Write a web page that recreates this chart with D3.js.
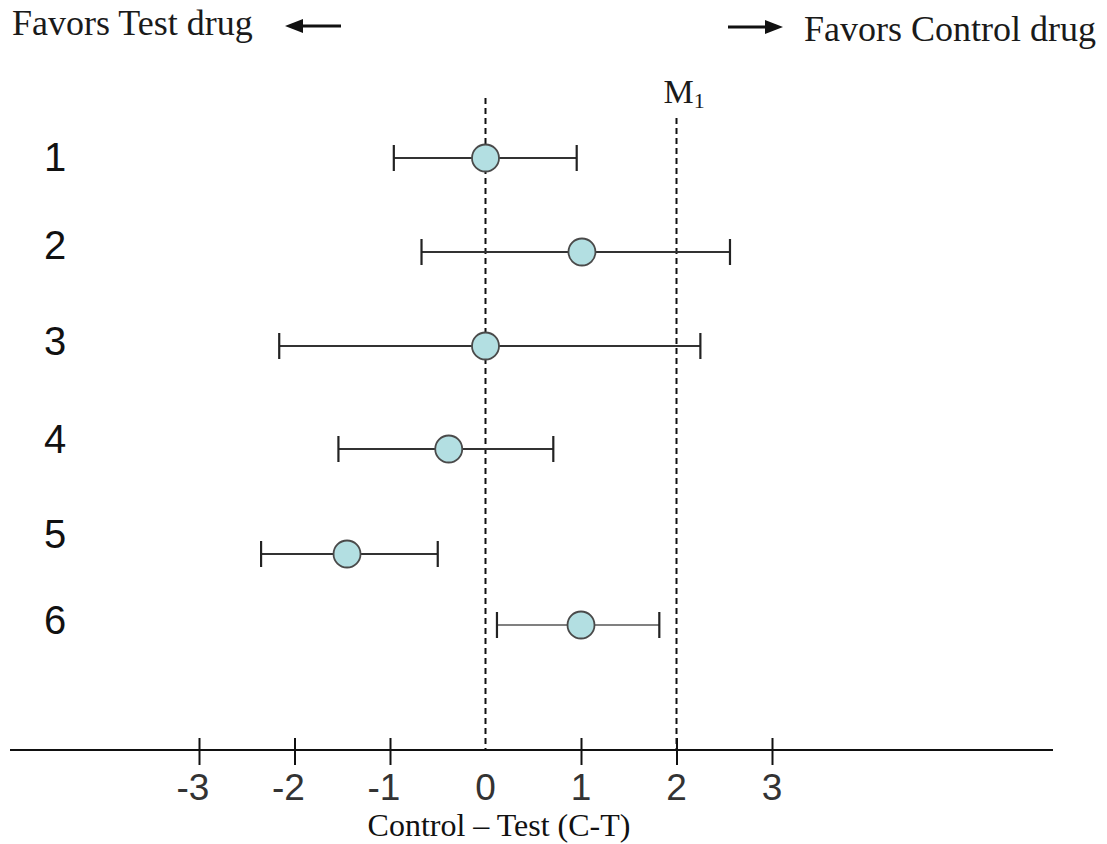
<!DOCTYPE html>
<html>
<head>
<meta charset="utf-8">
<script src="https://cdn.jsdelivr.net/npm/d3@7"></script>
<style>
  html, body { margin: 0; padding: 0; background: #fff; }
  svg { display: block; }
</style>
</head>
<body>
<svg id="chart" width="1107" height="844"></svg>
<script>
// ---- data ----
const rows = [1, 2, 3, 4, 5, 6];
const estimates = [0, 1.01, 0, -0.385, -1.45, 1.0];
const lowerCI = [-0.96, -0.67, -2.16, -1.54, -2.35, 0.12];
const upperCI = [0.955, 2.56, 2.25, 0.71, -0.50, 1.82];
const xTicks = [-3, -2, -1, 0, 1, 2, 3];
const refLines = [0, 2];
const marginLabel = "M";
const marginSub = "1";
const leftHeader = "Favors Test drug";
const rightHeader = "Favors Control drug";
const xTitle = "Control \u2013 Test (C-T)";

// ---- layout ----
const svg = d3.select("#chart");
const x = d3.scaleLinear().domain([-3, 3]).range([199, 772]);
const y = d3.scaleLinear().domain(rows).range([158, 252, 346, 449, 554, 625]);
const yLabel = d3.scaleLinear().domain(rows).range([171, 259, 355, 453, 548, 634]);
const axisY = 750;

const data = rows.map((r, i) => ({ row: r, est: estimates[i], lo: lowerCI[i], hi: upperCI[i] }));

// headers
svg.append("text").attr("x", 12).attr("y", 35)
  .attr("font-family", "Liberation Serif, Times New Roman, serif").attr("font-size", 36)
  .attr("fill", "#1a1a1a").text(leftHeader);
svg.append("text").attr("x", 804).attr("y", 41)
  .attr("font-family", "Liberation Serif, Times New Roman, serif").attr("font-size", 36)
  .attr("fill", "#1a1a1a").text(rightHeader);

// arrows
svg.append("line").attr("x1", 298).attr("x2", 341).attr("y1", 26).attr("y2", 26)
  .attr("stroke", "#111").attr("stroke-width", 3);
svg.append("path").attr("d", "M285,26 L303,19 L303,33 Z").attr("fill", "#111");
svg.append("line").attr("x1", 728).attr("x2", 768).attr("y1", 27).attr("y2", 27)
  .attr("stroke", "#111").attr("stroke-width", 3);
svg.append("path").attr("d", "M783,27 L765,20 L765,34 Z").attr("fill", "#111");

// reference dashed lines
const refTop = { 0: 98, 2: 118 };
svg.selectAll(".ref").data(refLines).enter().append("line")
  .attr("class", "ref")
  .attr("x1", d => x(d)).attr("x2", d => x(d))
  .attr("y1", d => refTop[d]).attr("y2", axisY)
  .attr("stroke", "#111").attr("stroke-width", 2).attr("stroke-dasharray", "6,4");

// M1 label
const mText = svg.append("text").attr("x", x(2) - 13).attr("y", 103)
  .attr("font-family", "Liberation Serif, Times New Roman, serif").attr("font-size", 34)
  .attr("fill", "#1a1a1a");
mText.append("tspan").text(marginLabel);
mText.append("tspan").attr("font-size", 22).attr("dy", 5).text(marginSub);

// x axis
const axis = d3.axisBottom(x).tickValues(xTicks).tickSize(15).tickFormat("");
const gAxis = svg.append("g").attr("transform", `translate(0,${axisY})`).call(axis);
gAxis.select(".domain").remove();
gAxis.selectAll(".tick line").attr("y1", -12).attr("stroke", "#111").attr("stroke-width", 2);
gAxis.selectAll(".tick").filter(d => d === 0).select("line").remove();
svg.append("line").attr("x1", 10).attr("x2", 1053).attr("y1", axisY).attr("y2", axisY)
  .attr("stroke", "#111").attr("stroke-width", 2);

// tick labels
svg.selectAll(".tlab").data(xTicks).enter().append("text")
  .attr("class", "tlab")
  .attr("x", d => x(d) + (d < 0 ? -6 : 0)).attr("y", 800)
  .attr("text-anchor", "middle")
  .attr("font-family", "Liberation Sans, Arial, sans-serif").attr("font-size", 37)
  .attr("fill", "#333").text(d => d);

// x title
svg.append("text").attr("x", 499).attr("y", 836).attr("text-anchor", "middle")
  .attr("font-family", "Liberation Serif, Times New Roman, serif").attr("font-size", 32)
  .attr("fill", "#111").text(xTitle);

// row labels
svg.selectAll(".rlab").data(data).enter().append("text")
  .attr("class", "rlab")
  .attr("x", 55).attr("y", d => yLabel(d.row)).attr("text-anchor", "middle")
  .attr("font-family", "Liberation Sans, Arial, sans-serif").attr("font-size", 40)
  .attr("fill", "#111").text(d => d.row);

// CI lines
const g = svg.selectAll(".ci").data(data).enter().append("g").attr("class", "ci");
const lineColor = d => d.row === 6 ? "#808080" : "#333";
g.append("line")
  .attr("x1", d => x(d.lo)).attr("x2", d => x(d.hi))
  .attr("y1", d => y(d.row)).attr("y2", d => y(d.row))
  .attr("stroke", lineColor).attr("stroke-width", 2.2);
g.append("line")
  .attr("x1", d => x(d.lo)).attr("x2", d => x(d.lo))
  .attr("y1", d => y(d.row) - 13).attr("y2", d => y(d.row) + 13)
  .attr("stroke", "#222").attr("stroke-width", 2.2);
g.append("line")
  .attr("x1", d => x(d.hi)).attr("x2", d => x(d.hi))
  .attr("y1", d => y(d.row) - 13).attr("y2", d => y(d.row) + 13)
  .attr("stroke", "#222").attr("stroke-width", 2.2);
g.append("circle")
  .attr("cx", d => x(d.est)).attr("cy", d => y(d.row)).attr("r", 13.5)
  .attr("fill", "#b3dfe2").attr("stroke", "#4a4a4a").attr("stroke-width", 1.8);
</script>
</body>
</html>
